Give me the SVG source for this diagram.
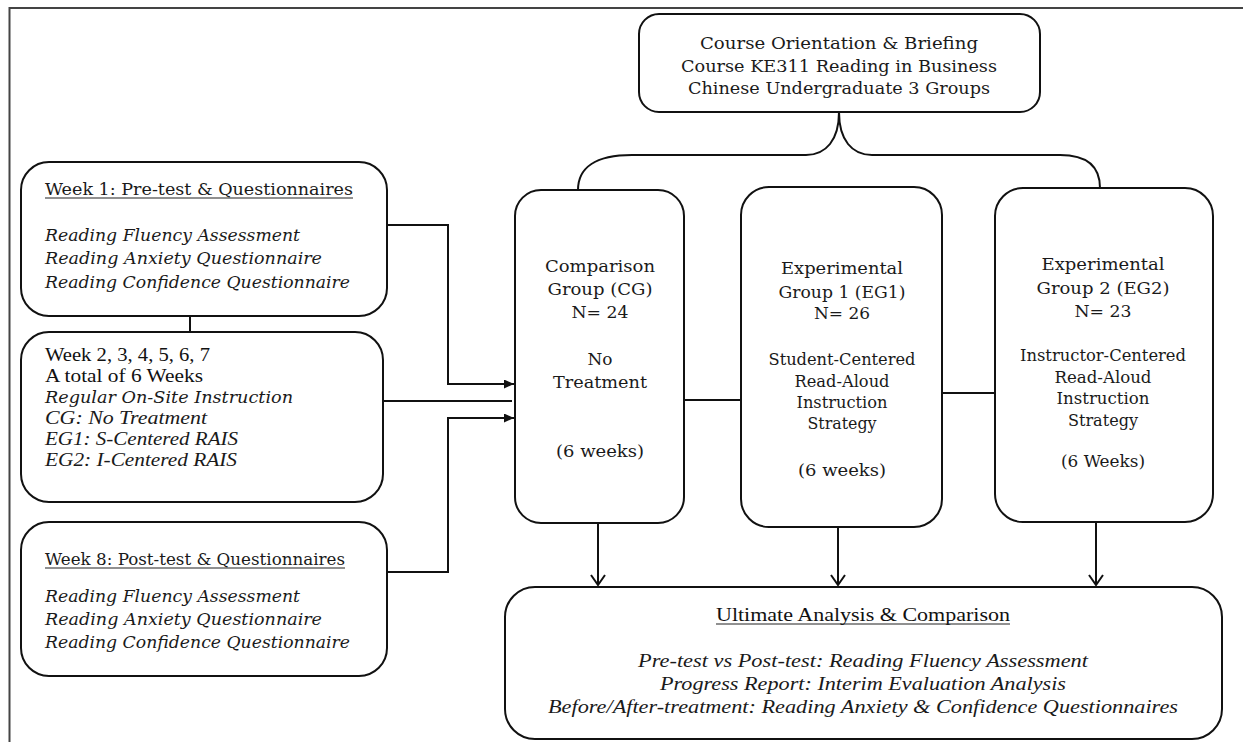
<svg xmlns="http://www.w3.org/2000/svg" width="1243" height="742" viewBox="0 0 1243 742">
<style>
.box{fill:#fff;stroke:#111;stroke-width:2}
.ln{fill:none;stroke:#111;stroke-width:2}
.t{font-family:"DejaVu Serif","Liberation Serif",serif;font-size:16px;fill:#1a1a1a}
.ti{font-family:"DejaVu Serif","Liberation Serif",serif;font-size:16px;font-style:italic;fill:#1a1a1a}
.tt{font-family:"Liberation Serif",serif;font-size:18px;fill:#111}
.tti{font-family:"Liberation Serif",serif;font-size:18px;font-style:italic;fill:#1a1a1a}
.c{text-anchor:middle}
.ul{stroke:#222;stroke-width:1.2}
</style>
<defs>
<marker id="tri" markerWidth="10" markerHeight="9" refX="10" refY="4.5" orient="auto" markerUnits="userSpaceOnUse"><path d="M0,0 L10,4.5 L0,9 z" fill="#111"/></marker>
<marker id="chev" markerWidth="12" markerHeight="16" refX="11" refY="8" orient="auto" markerUnits="userSpaceOnUse"><path d="M1,1 L11,8 L1,15" fill="none" stroke="#111" stroke-width="2"/></marker>
</defs>
<rect width="1243" height="742" fill="#fff"/>
<g id="frame"><path d="M9.5,742 V8 H1243" fill="none" stroke="#444" stroke-width="2"/></g>

<g id="connectors">
<path class="ln" d="M578,190 C578,168 595,155 632,155 L806,155 C826,155 839,140 839,112"/>
<path class="ln" d="M839,112 C839,140 852,155 872,155 L1060,155 C1086,155 1100,166 1100,188"/>
<path class="ln" d="M190,316 V332"/>
<path class="ln" d="M387,225 H448 V384 H514" marker-end="url(#tri)"/>
<path class="ln" d="M383,401 H512"/>
<path class="ln" d="M387,572 H448 V418 H514" marker-end="url(#tri)"/>
<path class="ln" d="M684,400 H741"/>
<path class="ln" d="M942,393 H994"/>
<path class="ln" d="M598,523 V585" marker-end="url(#chev)"/>
<path class="ln" d="M838,527 V585" marker-end="url(#chev)"/>
<path class="ln" d="M1096,522 V585" marker-end="url(#chev)"/>
</g>

<g id="top">
<rect class="box" x="639" y="14" width="401" height="98" rx="20"/>
<text class="t c" x="839" y="49" textLength="278" lengthAdjust="spacingAndGlyphs">Course Orientation &amp; Briefing</text>
<text class="t c" x="839" y="72" textLength="316" lengthAdjust="spacingAndGlyphs">Course KE311 Reading in Business</text>
<text class="t c" x="839" y="94" textLength="302" lengthAdjust="spacingAndGlyphs">Chinese Undergraduate 3 Groups</text>
</g>

<g id="week1">
<rect class="box" x="21" y="162" width="366" height="154" rx="28"/>
<text class="t" x="45" y="195" textLength="308" lengthAdjust="spacingAndGlyphs">Week 1: Pre-test &amp; Questionnaires</text>
<line class="ul" x1="45" y1="198" x2="353" y2="198"/>
<text class="ti" x="45" y="241" textLength="255" lengthAdjust="spacingAndGlyphs">Reading Fluency Assessment</text>
<text class="ti" x="45" y="264" textLength="277" lengthAdjust="spacingAndGlyphs">Reading Anxiety Questionnaire</text>
<text class="ti" x="45" y="288" textLength="305" lengthAdjust="spacingAndGlyphs">Reading Confidence Questionnaire</text>
</g>

<g id="weeks2to7">
<rect class="box" x="21" y="332" width="362" height="170" rx="28"/>
<text class="tt" x="45" y="361" textLength="165" lengthAdjust="spacingAndGlyphs">Week 2, 3, 4, 5, 6, 7</text>
<text class="tt" x="45" y="382" textLength="158" lengthAdjust="spacingAndGlyphs">A total of 6 Weeks</text>
<text class="ti" x="45" y="403" textLength="248" lengthAdjust="spacingAndGlyphs">Regular On-Site Instruction</text>
<text class="tti" x="45" y="424" fill="#333" textLength="162" lengthAdjust="spacingAndGlyphs">CG: No Treatment</text>
<text class="tti" x="45" y="445" textLength="193" lengthAdjust="spacingAndGlyphs">EG1: S-Centered RAIS</text>
<text class="tti" x="45" y="466" textLength="192" lengthAdjust="spacingAndGlyphs">EG2: I-Centered RAIS</text>
</g>

<g id="week8">
<rect class="box" x="21" y="522" width="366" height="154" rx="28"/>
<text class="t" x="45" y="565" textLength="300" lengthAdjust="spacingAndGlyphs">Week 8: Post-test &amp; Questionnaires</text>
<line class="ul" x1="45" y1="568" x2="345" y2="568"/>
<text class="ti" x="45" y="602" textLength="255" lengthAdjust="spacingAndGlyphs">Reading Fluency Assessment</text>
<text class="ti" x="45" y="625" textLength="277" lengthAdjust="spacingAndGlyphs">Reading Anxiety Questionnaire</text>
<text class="ti" x="45" y="648" textLength="305" lengthAdjust="spacingAndGlyphs">Reading Confidence Questionnaire</text>
</g>

<g id="cg">
<rect class="box" x="515" y="190" width="169" height="333" rx="26"/>
<text class="t c" x="600" y="272" textLength="110" lengthAdjust="spacingAndGlyphs">Comparison</text>
<text class="t c" x="600" y="295" textLength="105" lengthAdjust="spacingAndGlyphs">Group (CG)</text>
<text class="t c" x="600" y="318" textLength="57" lengthAdjust="spacingAndGlyphs">N= 24</text>
<text class="t c" x="600" y="365" textLength="25" lengthAdjust="spacingAndGlyphs">No</text>
<text class="t c" x="600" y="388" textLength="94" lengthAdjust="spacingAndGlyphs">Treatment</text>
<text class="t c" x="600" y="457" textLength="88" lengthAdjust="spacingAndGlyphs">(6 weeks)</text>
</g>

<g id="eg1">
<rect class="box" x="741" y="187" width="201" height="340" rx="28"/>
<text class="t c" x="842" y="274" textLength="122" lengthAdjust="spacingAndGlyphs">Experimental</text>
<text class="t c" x="842" y="298" textLength="127" lengthAdjust="spacingAndGlyphs">Group 1 (EG1)</text>
<text class="t c" x="842" y="319" textLength="56" lengthAdjust="spacingAndGlyphs">N= 26</text>
<text class="t c" x="842" y="365" textLength="147" lengthAdjust="spacingAndGlyphs">Student-Centered</text>
<text class="t c" x="842" y="387" textLength="95" lengthAdjust="spacingAndGlyphs">Read-Aloud</text>
<text class="t c" x="842" y="408" textLength="91" lengthAdjust="spacingAndGlyphs">Instruction</text>
<text class="t c" x="842" y="429" textLength="69" lengthAdjust="spacingAndGlyphs">Strategy</text>
<text class="t c" x="842" y="476" textLength="88" lengthAdjust="spacingAndGlyphs">(6 weeks)</text>
</g>

<g id="eg2">
<rect class="box" x="995" y="188" width="218" height="334" rx="28"/>
<text class="t c" x="1103" y="270" textLength="123" lengthAdjust="spacingAndGlyphs">Experimental</text>
<text class="t c" x="1103" y="294" textLength="133" lengthAdjust="spacingAndGlyphs">Group 2 (EG2)</text>
<text class="t c" x="1103" y="317" textLength="57" lengthAdjust="spacingAndGlyphs">N= 23</text>
<text class="t c" x="1103" y="361" textLength="166" lengthAdjust="spacingAndGlyphs">Instructor-Centered</text>
<text class="t c" x="1103" y="383" textLength="97" lengthAdjust="spacingAndGlyphs">Read-Aloud</text>
<text class="t c" x="1103" y="404" textLength="93" lengthAdjust="spacingAndGlyphs">Instruction</text>
<text class="t c" x="1103" y="426" textLength="70" lengthAdjust="spacingAndGlyphs">Strategy</text>
<text class="t c" x="1103" y="467" textLength="84" lengthAdjust="spacingAndGlyphs">(6 Weeks)</text>
</g>

<g id="analysis">
<rect class="box" x="505" y="587" width="717" height="152" rx="30"/>
<text class="tt c" x="863" y="621" textLength="294" lengthAdjust="spacingAndGlyphs">Ultimate Analysis &amp; Comparison</text>
<line class="ul" x1="716" y1="624" x2="1010" y2="624"/>
<text class="tti c" x="863" y="667" textLength="450" lengthAdjust="spacingAndGlyphs">Pre-test vs Post-test: Reading Fluency Assessment</text>
<text class="tti c" x="863" y="690" textLength="406" lengthAdjust="spacingAndGlyphs">Progress Report: Interim Evaluation Analysis</text>
<text class="tti c" x="863" y="713" textLength="630" lengthAdjust="spacingAndGlyphs">Before/After-treatment: Reading Anxiety &amp; Confidence Questionnaires</text>
</g>
</svg>
